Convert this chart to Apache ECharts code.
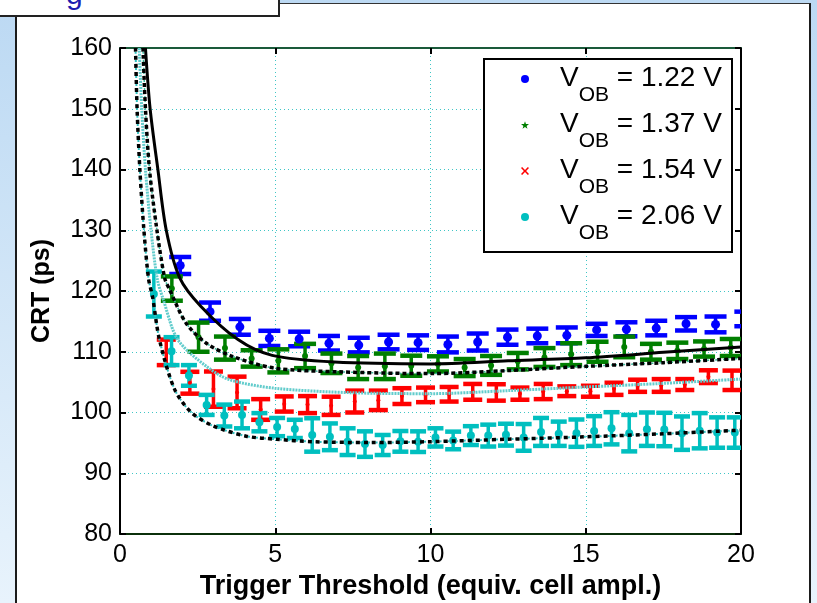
<!DOCTYPE html>
<html>
<head>
<meta charset="utf-8">
<script src="https://cdn.jsdelivr.net/npm/echarts@6/dist/echarts.min.js"></script>
<style>
html, body { margin: 0; padding: 0; }
body {
    width: 817px; height: 603px; position: relative; overflow: hidden;
    background: linear-gradient(#bcd9f3, #e8f3fc);
    font-family: "Liberation Sans", Arial, sans-serif;
}
#panel {
    position: absolute; left: 15px; top: 3px; width: 796px; height: 620px;
    background: #fff; box-sizing: border-box;
    border-left: 2px solid #1b1b1b; border-top: 1px solid #333; border-right: 2px solid #1b1b1b;
}
#tab {
    position: absolute; left: 0; top: 0; width: 280px; height: 17px;
    background: #fff; box-sizing: border-box; overflow: hidden;
    border-right: 2px solid #222; border-bottom: 2px solid #222;
}
#tab span {
    position: absolute; left: 66px; top: -21px;
    font-size: 30px; line-height: 30px; color: #1c1cb0;
}
#chart { position: absolute; left: 0; top: 0; width: 817px; height: 603px; }
</style>
</head>
<body>
<div id="panel"></div>
<div id="tab"><span>g</span></div>
<div id="chart"></div>
<script>
// values
const voltages = ["1.22", "1.37", "1.54", "2.06"];

const blueX = [1.94, 2.90, 3.86, 4.81, 5.77, 6.73, 7.69, 8.65, 9.60, 10.56,
    11.52, 12.48, 13.44, 14.39, 15.35, 16.31, 17.27, 18.23, 19.18, 20.14];
const blueY = [124.2, 116.6, 114.1, 112.2, 112.1, 111.4, 111.1, 111.6, 111.5, 111.2,
    111.6, 112.4, 112.6, 112.7, 113.6, 113.7, 113.9, 114.6, 114.5, 115.4];
const blueErr = [1.4, 1.5, 1.3, 1.25, 1.2, 1.2, 1.2, 1.2, 1.2, 1.3,
    1.4, 1.25, 1.2, 1.3, 1.0, 1.15, 1.2, 1.1, 1.3, 1.2];

const greenX = [1.67, 2.53, 3.38, 4.24, 5.10, 5.96, 6.81, 7.67, 8.53, 9.38, 10.24,
    11.10, 11.95, 12.81, 13.67, 14.53, 15.38, 16.24, 17.10, 17.95, 18.81, 19.67];
const greenY = [120.4, 112.4, 110.6, 108.9, 108.5, 109.3, 108.1, 107.4, 107.6, 107.7, 108.0,
    107.4, 107.75, 108.45, 109.05, 109.6, 110.0, 110.8, 110.0, 110.15, 110.45, 110.7];
const greenErr = [2.0, 2.4, 1.9, 1.35, 1.9, 2.0, 1.6, 1.9, 2.1, 1.65, 1.25,
    1.4, 1.55, 1.35, 1.55, 1.8, 1.65, 1.7, 1.3, 1.35, 1.25, 1.4];

const redX = [1.49, 2.25, 3.01, 3.77, 4.53, 5.29, 6.04, 6.80, 7.56, 8.32, 9.08, 9.84, 10.60,
    11.36, 12.12, 12.88, 13.63, 14.39, 15.15, 15.91, 16.67, 17.43, 18.19, 18.95, 19.71];
const redY = [109.9, 104.9, 103.85, 103.3, 100.5, 101.4, 101.3, 101.1, 101.8, 102.0, 102.7, 102.9, 103.0,
    103.4, 103.3, 103.1, 103.45, 103.5, 103.5, 103.9, 104.4, 104.45, 104.6, 105.9, 105.3];
const redErr = [2.1, 1.8, 2.9, 2.6, 1.7, 1.25, 1.4, 1.5, 1.8, 1.6, 1.3, 1.2, 1.2,
    1.3, 1.35, 1.0, 1.25, 0.8, 0.9, 1.0, 1.0, 1.05, 0.9, 1.05, 1.6];

const cyanX = [1.09, 1.66, 2.22, 2.79, 3.36, 3.93, 4.49, 5.06, 5.63, 6.19, 6.76, 7.33,
    7.89, 8.46, 9.03, 9.60, 10.16, 10.73, 11.30, 11.86, 12.43, 13.00, 13.56, 14.13,
    14.70, 15.27, 15.83, 16.40, 16.97, 17.53, 18.10, 18.67, 19.23, 19.80];
const cyanY = [119.5, 110.1, 106.1, 101.25, 99.5, 99.6, 98.4, 97.6, 97.3, 96.3, 96.0, 95.2,
    94.8, 94.65, 95.25, 95.2, 95.9, 95.4, 96.2, 96.2, 96.35, 95.9, 96.8, 96.5,
    96.6, 96.95, 97.4, 96.6, 97.25, 97.2, 96.6, 97.0, 96.7, 96.7];
const cyanErr = [3.7, 2.3, 1.7, 1.65, 1.8, 2.2, 1.5, 1.5, 1.5, 2.75, 2.2, 2.2,
    2.1, 1.65, 1.7, 1.7, 1.5, 1.45, 1.55, 1.8, 1.8, 2.2, 2.3, 2.0,
    2.25, 2.45, 2.65, 3.0, 2.75, 2.75, 2.75, 2.9, 2.5, 2.5];

// fit curves, points
const fitBlue = [[0.82, 160], [0.97, 150], [1.22, 140], [1.49, 130], [1.92, 122.2], [2.6, 117.5],
    [3.8, 112.0], [4.9, 109.4], [6.9, 108.3], [10, 108.0], [12.5, 108.5], [15, 109.0],
    [17.5, 109.9], [20, 110.8]];
const fitGreen = [[0.74, 160], [0.82, 150], [0.95, 140], [1.19, 130], [1.44, 122.1], [1.6, 120.2],
    [2.13, 114.7], [2.78, 111.4], [3.64, 109.2], [4.98, 107.3], [7, 106.7], [10, 106.4],
    [12.5, 106.9], [15, 107.6], [17.5, 108.2], [20, 108.9]];
const fitRed = [[0.62, 160], [0.7, 150], [0.82, 140], [1.0, 130], [1.2, 122], [1.4, 118.5],
    [1.86, 112], [2.78, 107.6], [3.53, 105.4], [4.98, 104.0], [7.5, 103.25], [10, 103.1],
    [12.5, 103.6], [15, 104.2], [17.5, 104.8], [20, 105.5]];
const fitCyan = [[0.5, 160], [0.55, 150], [0.64, 140], [0.77, 130], [0.92, 122], [1.05, 119],
    [1.27, 112], [1.76, 103.8], [2.3, 100], [3.0, 97.8], [4.07, 96.1], [5.04, 95.6],
    [6.2, 95.2], [8.1, 95.05], [10, 95.2], [12.5, 95.6], [15, 96.0], [17.5, 96.5], [20, 97.1]];

const FONT = "Liberation Sans, Arial, sans-serif";

function pairs(xs, ys) {
    return xs.map(function (x, i) { return [x, ys[i]]; });
}

// error bars as I-shapes
function errSeries(xs, ys, es, color, capW) {
    return {
        type: "custom",
        clip: true,
        z: 2,
        silent: true,
        data: xs.map(function (x, i) { return [x, ys[i], es[i]]; }),
        renderItem: function (params, api) {
            const x = api.value(0), y = api.value(1), e = api.value(2);
            const top = api.coord([x, y + e]);
            const bot = api.coord([x, y - e]);
            const h = capW / 2;
            return {
                type: "group",
                children: [
                    { type: "line", shape: { x1: top[0], y1: top[1], x2: bot[0], y2: bot[1] },
                      style: { stroke: color, lineWidth: 3.5 } },
                    { type: "line", shape: { x1: top[0] - h, y1: top[1], x2: top[0] + h, y2: top[1] },
                      style: { stroke: color, lineWidth: 4.5 } },
                    { type: "line", shape: { x1: bot[0] - h, y1: bot[1], x2: bot[0] + h, y2: bot[1] },
                      style: { stroke: color, lineWidth: 4.5 } }
                ]
            };
        }
    };
}

function pointSeries(name, xs, ys, color, symbol, size) {
    return {
        type: "scatter", name: name, data: pairs(xs, ys),
        symbol: symbol, symbolSize: size, z: 3, silent: true,
        itemStyle: { color: color, opacity: 1 }
    };
}

function fitSeries(data, color, width, type, z) {
    return {
        type: "line", data: data, showSymbol: false, smooth: 0.3, silent: true, z: z,
        lineStyle: { color: color, width: width, type: type }
    };
}

const names = voltages.map(function (v) { return "VOB = " + v + " V"; });

function init() {
    const instance = echarts.init(document.getElementById("chart"));

    const option = {
        animation: false,
        grid: { left: 120, right: 76, top: 48, bottom: 69, outerBoundsMode: "none" },
        xAxis: [{
            type: "value", position: "bottom", min: 0, max: 20, interval: 5,
            name: "Trigger Threshold (equiv. cell ampl.)",
            nameLocation: "middle", nameGap: 37,
            nameTextStyle: { fontFamily: FONT, fontWeight: "bold", fontSize: 27, color: "#000" },
            axisLine: { show: true, onZero: false, lineStyle: { color: "#0b300b", width: 2 } },
            axisTick: { show: true, inside: true, length: 6, lineStyle: { color: "#000", width: 2 } },
            axisLabel: { fontFamily: FONT, fontSize: 25, color: "#000", margin: 9 },
            splitLine: { show: true, lineStyle: { color: "#3fc6c6", width: 1, type: [1, 3] } }
        }, {
            type: "value", position: "top", min: 0, max: 20, interval: 5,
            axisLine: { show: true, onZero: false, lineStyle: { color: "#1a5a3a", width: 2 } },
            axisTick: { show: true, inside: true, length: 6, lineStyle: { color: "#000", width: 2 } },
            axisLabel: { show: false },
            splitLine: { show: false }
        }],
        yAxis: [{
            type: "value", position: "left", min: 80, max: 160, interval: 10,
            name: "CRT (ps)",
            nameLocation: "middle", nameGap: 65,
            nameTextStyle: { fontFamily: FONT, fontWeight: "bold", fontSize: 25, color: "#000" },
            axisLine: { show: true, onZero: false, lineStyle: { color: "#000", width: 2 } },
            axisTick: { show: true, inside: true, length: 6, lineStyle: { color: "#000", width: 2 } },
            axisLabel: { fontFamily: FONT, fontSize: 25, color: "#000", margin: 8 },
            splitLine: { show: true, lineStyle: { color: "#3fc6c6", width: 1, type: [1, 3] } }
        }, {
            type: "value", position: "right", min: 80, max: 160, interval: 10,
            axisLine: { show: true, onZero: false, lineStyle: { color: "#000", width: 2 } },
            axisTick: { show: true, inside: true, length: 6, lineStyle: { color: "#000", width: 2 } },
            axisLabel: { show: false },
            splitLine: { show: false }
        }],
        graphic: [{
            type: "rect", z: 9, silent: true,
            shape: { x: 484, y: 59, width: 248, height: 193 },
            style: { fill: "#fff", stroke: "#000", lineWidth: 2 }
        }],
        legend: {
            orient: "vertical", left: 521, top: 64, padding: 0, z: 10,
            itemWidth: 8, itemHeight: 8, itemGap: 4, selectedMode: false,
            data: [
                { name: names[0], icon: "circle" },
                { name: names[1], icon: "path://M5,0L6.2,3.6L10,3.6L7,5.9L8.1,9.5L5,7.3L1.9,9.5L3,5.9L0,3.6L3.8,3.6Z" },
                { name: names[2], icon: "path://M0,1.4L1.4,0L5,3.6L8.6,0L10,1.4L6.4,5L10,8.6L8.6,10L5,6.4L1.4,10L0,8.6L3.6,5Z" },
                { name: names[3], icon: "circle" }
            ],
            formatter: function (name) {
                const v = voltages[names.indexOf(name)];
                return "{a|V}{s|OB}{b| = " + v + " V}";
            },
            textStyle: {
                fontFamily: FONT, color: "#000",
                rich: {
                    a: { fontFamily: FONT, fontSize: 28, lineHeight: 30, verticalAlign: "top", padding: [0, 0, 0, 26] },
                    s: { fontFamily: FONT, fontSize: 21, lineHeight: 21, verticalAlign: "top", padding: [21, 0, 0, 0] },
                    b: { fontFamily: FONT, fontSize: 28, lineHeight: 30, verticalAlign: "top" }
                }
            }
        },
        series: [
            errSeries(blueX, blueY, blueErr, "#0000ff", 22),
            errSeries(greenX, greenY, greenErr, "#007f00", 22),
            errSeries(redX, redY, redErr, "#ff0000", 19),
            errSeries(cyanX, cyanY, cyanErr, "#00bfbf", 16),
            pointSeries(names[0], blueX, blueY, "#0000ff", "circle", 9),
            pointSeries(names[1], greenX, greenY, "#007f00", "circle", 6),
            pointSeries(names[2], redX, redY, "#ff0000", "circle", 4),
            pointSeries(names[3], cyanX, cyanY, "#00bfbf", "circle", 8),
            fitSeries(fitRed, "#62cccc", 3, [2, 1], 4),
            fitSeries(fitCyan, "#30c0c0", 2, [2, 2], 4),
            fitSeries(fitCyan, "#000", 3.5, [4, 4], 5),
            fitSeries(fitGreen, "#3cb89c", 1.5, [2, 2], 4),
            fitSeries(fitGreen, "#000", 3.5, [4, 3], 5),
            fitSeries(fitBlue, "#000", 3, "solid", 5)
        ]
    };

    instance.setOption(option);
}

init();
</script>
</body>
</html>
